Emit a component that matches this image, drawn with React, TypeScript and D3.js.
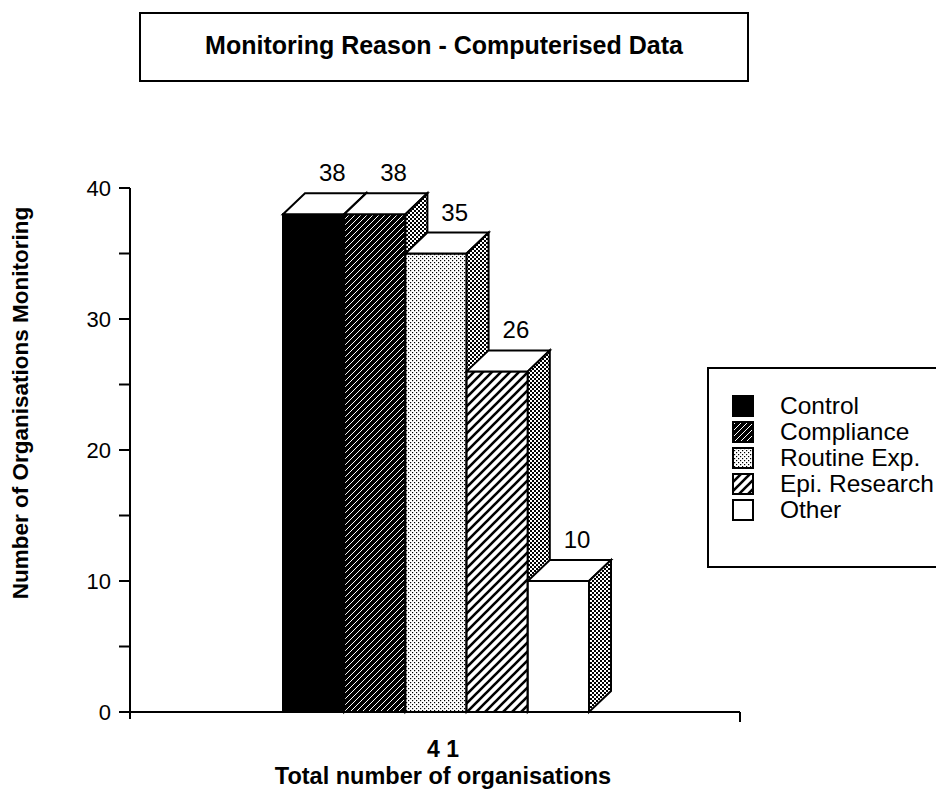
import React from "react";
import * as d3 from "d3";

// Monitoring reasons for computerised data (organisations, out of 41)
const reasons = ["Control", "Compliance", "Routine Exp.", "Epi. Research", "Other"];
const counts = [38, 38, 35, 26, 10];
const fills = ["#000", "url(#pCompliance)", "url(#pRoutine)", "url(#pEpi)", "#fff"];
const yTicks = [0, 5, 10, 15, 20, 25, 30, 35, 40];
const yLabels = [0, 10, 20, 30, 40];
const groupLabel = "4 1";

const W = 936;
const H = 793;
const FONT = "'Liberation Sans', Arial, Helvetica, sans-serif";

export default function App() {
  const axisLeft = 130;
  const axisRight = 740;
  const baseY = 712;
  const y = d3.scaleLinear().domain([0, 40]).range([baseY, 188]);
  const x = d3.scaleBand<string>().domain(reasons).range([283, 589]).padding(0);
  const bw = x.bandwidth();
  const dx = 22;
  const dy = 21;

  const pts = (p: [number, number][]) => p.map((q) => q.join(",")).join(" ");

  return (
    <svg
      width={W}
      height={H}
      viewBox={`0 0 ${W} ${H}`}
      style={{ position: "absolute", left: 0, top: 0, background: "#fff" }}
      fontFamily={FONT}
    >
      <defs>
        <pattern id="pCompliance" patternUnits="userSpaceOnUse" width={6} height={6}>
          <rect width={6} height={6} fill="#000" />
          <path d="M-1,7 L7,-1 M-1,1 L1,-1 M5,7 L7,5" stroke="#fff" strokeWidth={1} />
        </pattern>
        <pattern id="pEpi" patternUnits="userSpaceOnUse" width={9} height={9}>
          <rect width={9} height={9} fill="#fff" />
          <path d="M-1,10 L10,-1 M-1,1 L1,-1 M8,10 L10,8" stroke="#000" strokeWidth={2.6} />
        </pattern>
        <pattern id="pRoutine" patternUnits="userSpaceOnUse" width={4} height={4}>
          <rect width={4} height={4} fill="#fff" />
          <rect x={0} y={0} width={1.2} height={1.2} fill="#000" />
          <rect x={2} y={2} width={1.2} height={1.2} fill="#000" />
        </pattern>
        <pattern id="pSide" patternUnits="userSpaceOnUse" width={4} height={4}>
          <rect width={4} height={4} fill="#fff" />
          <rect x={0} y={0} width={2} height={2} fill="#000" />
          <rect x={2} y={2} width={2} height={2} fill="#000" />
        </pattern>
      </defs>

      {/* title box, centred over the plot */}
      <rect x={140} y={13} width={608} height={68} fill="#fff" stroke="#000" strokeWidth={2} />
      <text x={444} y={54} textAnchor="middle" fontWeight="bold" fontSize={25}>
        Monitoring Reason - Computerised Data
      </text>

      {/* y axis */}
      <line x1={axisLeft} x2={axisLeft} y1={y(40)} y2={baseY} stroke="#000" strokeWidth={2} />
      {yTicks.map((t) => (
        <line key={t} x1={axisLeft - 11} x2={axisLeft} y1={y(t)} y2={y(t)} stroke="#000" strokeWidth={2} />
      ))}
      {yLabels.map((t) => (
        <text key={t} x={axisLeft - 19} y={y(t) + 8} textAnchor="end" fontSize={22}>
          {t}
        </text>
      ))}
      <text
        transform={`translate(28,403) rotate(-90)`}
        textAnchor="middle"
        fontWeight="bold"
        fontSize={22.5}
      >
        Number of Organisations Monitoring
      </text>

      {/* x axis */}
      <line x1={axisLeft} x2={axisRight} y1={baseY} y2={baseY} stroke="#000" strokeWidth={2} />
      <line x1={axisLeft} x2={axisLeft} y1={baseY} y2={baseY + 7} stroke="#000" strokeWidth={2} />
      <line x1={axisRight} x2={axisRight} y1={baseY} y2={baseY + 10} stroke="#000" strokeWidth={2} />
      <text x={443} y={757} textAnchor="middle" fontWeight="bold" fontSize={23}>
        {groupLabel}
      </text>
      <text x={443} y={784} textAnchor="middle" fontWeight="bold" fontSize={23.5}>
        Total number of organisations
      </text>

      {/* 3-D bars, painted left to right */}
      {reasons.map((r, i) => {
        const x0 = x(r) as number;
        const x1 = x0 + bw;
        const top = y(counts[i]);
        return (
          <g key={r} stroke="#000" strokeWidth={2} strokeLinejoin="miter">
            <rect x={x0} y={top} width={bw} height={baseY - top} fill={fills[i]} />
            <polygon
              points={pts([
                [x0, top],
                [x0 + dx, top - dy],
                [x1 + dx, top - dy],
                [x1, top],
              ])}
              fill="#fff"
            />
            <polygon
              points={pts([
                [x1, top],
                [x1 + dx, top - dy],
                [x1 + dx, baseY - dy],
                [x1, baseY],
              ])}
              fill="url(#pSide)"
            />
          </g>
        );
      })}
      {reasons.map((r, i) => (
        <text
          key={r}
          x={(x(r) as number) + bw / 2 + dx * 0.85}
          y={y(counts[i]) - dy - 12}
          textAnchor="middle"
          fontSize={24}
        >
          {counts[i]}
        </text>
      ))}

      {/* legend */}
      <rect x={708} y={368} width={250} height={199} fill="#fff" stroke="#000" strokeWidth={2} />
      {reasons.map((r, i) => {
        const cy = 406 + i * 26;
        return (
          <g key={r}>
            <rect x={733} y={cy - 10} width={20} height={20} fill={fills[i]} stroke="#000" strokeWidth={2} />
            <text x={780} y={cy + 8} fontSize={24.5}>
              {r}
            </text>
          </g>
        );
      })}
    </svg>
  );
}
